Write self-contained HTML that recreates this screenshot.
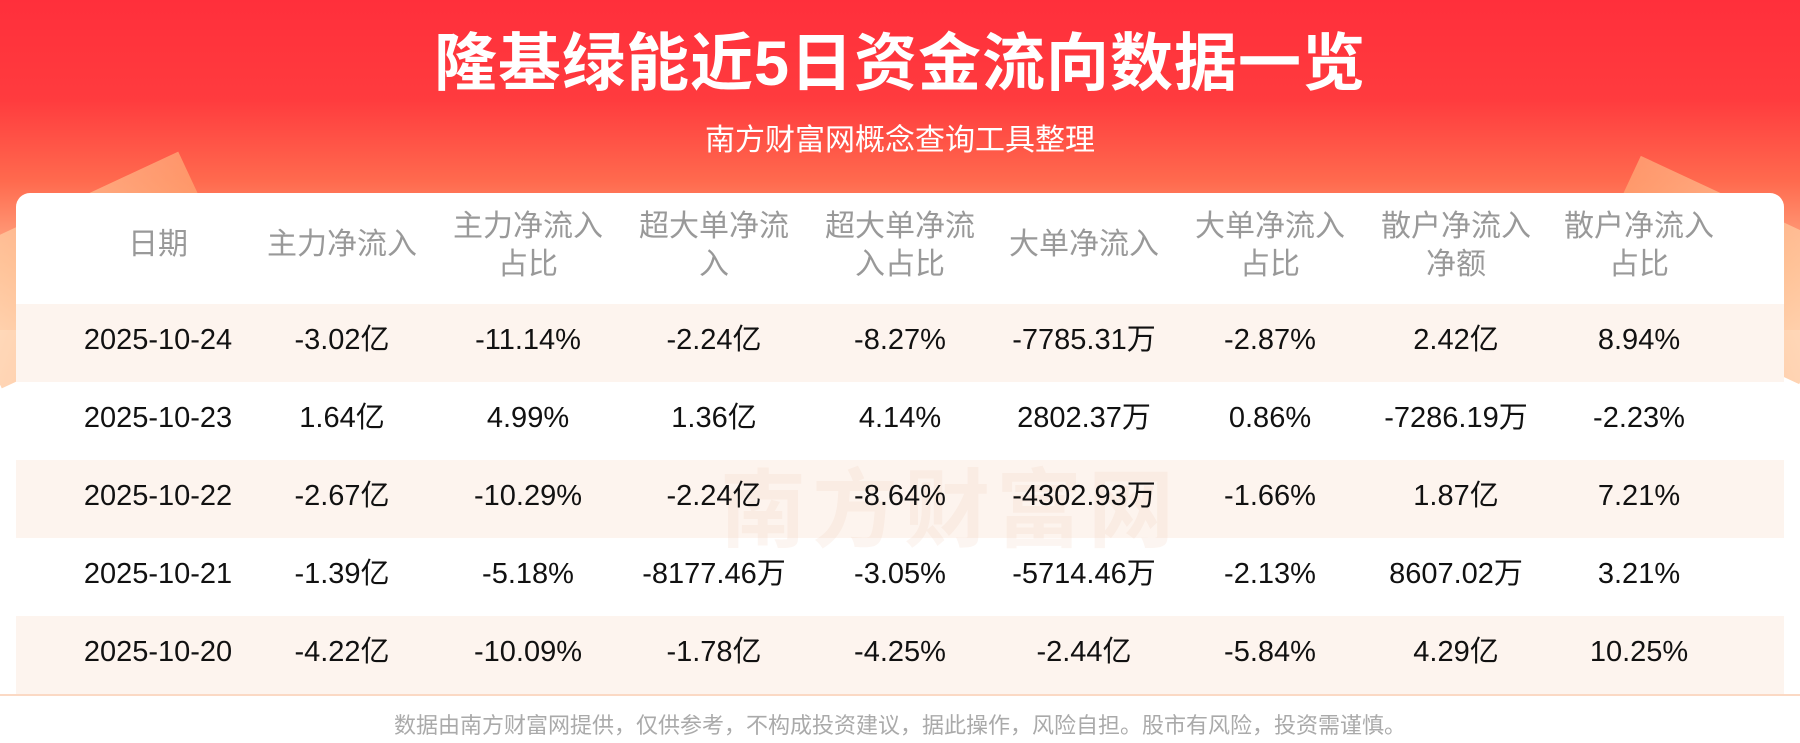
<!DOCTYPE html>
<html><head><meta charset="utf-8"><style>
*{margin:0;padding:0;box-sizing:border-box}
body{width:1800px;height:743px;overflow:hidden;background:#fff;font-family:"Liberation Sans","Noto Sans CJK SC",sans-serif;position:relative}
.bg{position:absolute;left:0;top:0;width:1800px;height:330px;background:linear-gradient(180deg,#ff2f3b 0%,#ff3b3e 30%,#ff6a4e 55%,#ffb08a 80%,#ffe6d6 100%)}
.l{position:absolute;left:-40px;top:200px;width:260px;height:140px;background:linear-gradient(135deg,#ffd8b0,#ff9a60);transform:rotate(-25deg);opacity:.7}
.r{position:absolute;right:-40px;top:200px;width:240px;height:140px;background:linear-gradient(225deg,#ffd8b0,#ff9a60);transform:rotate(25deg);opacity:.7}
.title{position:absolute;top:27px;width:100%;text-align:center;color:#fff;font-size:63px;font-weight:bold;line-height:74px;letter-spacing:1px}
.sub{position:absolute;top:122px;width:100%;text-align:center;color:#fff;font-size:30px;line-height:38px}
.card{position:absolute;left:16px;top:193px;width:1768px;height:520px;background:#fff;border-radius:14px}
.c{position:absolute;width:190px;text-align:center;transform:translateX(-95px);white-space:nowrap}
.h{color:#999;font-size:30px;line-height:38px}
.d{color:#111;font-size:29px;line-height:34px}
.stripe{position:absolute;left:16px;width:1768px;height:78px;background:#fdf4ee}
.line{position:absolute;left:0;top:694px;width:1800px;height:2px;background:#fbd9c4}
.foot{position:absolute;top:712px;width:100%;text-align:center;color:#aaa;font-size:22px;line-height:28px}
.wm{position:absolute;left:720px;top:440px;font-size:86px;color:rgba(240,200,180,.18);font-weight:bold;letter-spacing:6px}
</style></head><body>
<div class="bg"></div><div class="l"></div><div class="r"></div>
<div class="title">隆基绿能近5日资金流向数据一览</div>
<div class="sub">南方财富网概念查询工具整理</div>
<div class="card"></div>
<div class="stripe" style="top:304px"></div>
<div class="stripe" style="top:460px"></div>
<div class="stripe" style="top:616px"></div>
<div class="wm">南方财富网</div>
<div id="t"></div>
<div class="line"></div>
<div class="foot">数据由南方财富网提供，仅供参考，不构成投资建议，据此操作，风险自担。股市有风险，投资需谨慎。</div>
<script>
var xs=[158,342,528,714,900,1084,1270,1456,1639];
var H=[["日期"],["主力净流入"],["主力净流入","占比"],["超大单净流","入"],["超大单净流","入占比"],["大单净流入"],["大单净流入","占比"],["散户净流入","净额"],["散户净流入","占比"]];
var D=[["2025-10-24","-3.02亿","-11.14%","-2.24亿","-8.27%","-7785.31万","-2.87%","2.42亿","8.94%"],
["2025-10-23","1.64亿","4.99%","1.36亿","4.14%","2802.37万","0.86%","-7286.19万","-2.23%"],
["2025-10-22","-2.67亿","-10.29%","-2.24亿","-8.64%","-4302.93万","-1.66%","1.87亿","7.21%"],
["2025-10-21","-1.39亿","-5.18%","-8177.46万","-3.05%","-5714.46万","-2.13%","8607.02万","3.21%"],
["2025-10-20","-4.22亿","-10.09%","-1.78亿","-4.25%","-2.44亿","-5.84%","4.29亿","10.25%"]];
var s="";
H.forEach(function(h,i){var top=h.length==1?226:208;s+='<div class="c h" style="left:'+xs[i]+'px;top:'+top+'px">'+h.join("<br>")+'</div>';});
D.forEach(function(r,j){var cy=340+78*j;r.forEach(function(v,i){s+='<div class="c d" style="left:'+xs[i]+'px;top:'+(cy-17)+'px">'+v+'</div>';});});
document.getElementById("t").innerHTML=s;
</script>
</body></html>
